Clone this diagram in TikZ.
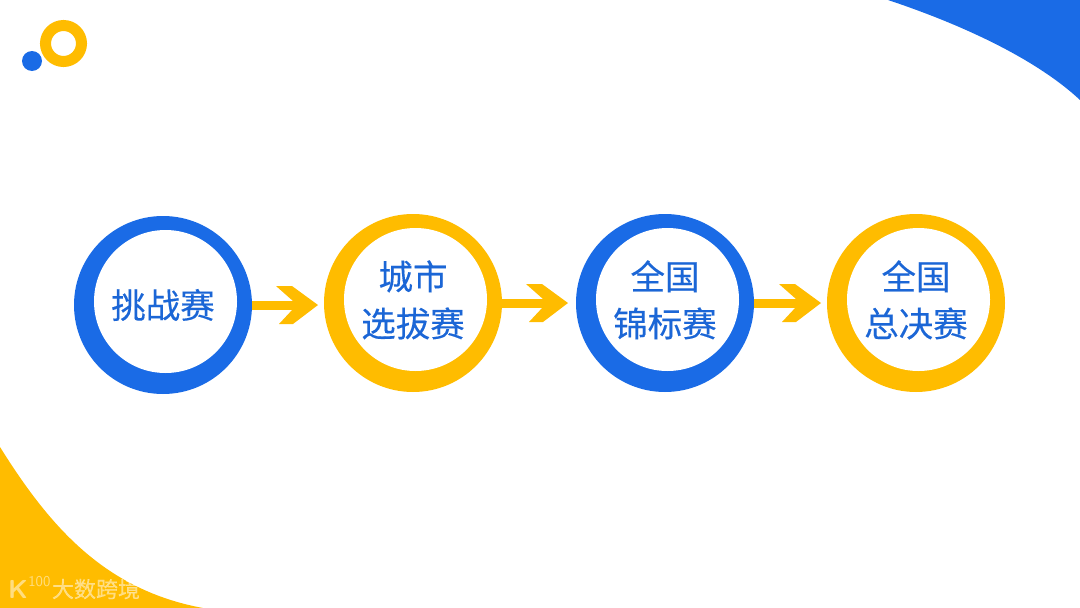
\documentclass[tikz,border=0pt]{standalone}
\usepackage{fontspec}
\newfontfamily\cjk[FakeBold=0.3]{Noto Sans CJK SC}
\usetikzlibrary{positioning}
\definecolor{brandblue}{HTML}{1A6BE6}
\definecolor{brandyellow}{HTML}{FFBC00}
\definecolor{labelblue}{HTML}{1B66D6}

\pgfarrowsdeclare{chevron}{chevron}
{\pgfarrowsleftextend{-17pt}\pgfarrowsrightextend{25pt}}
{
    \pgfpathmoveto{\pgfpoint{-17pt}{19pt}}
    \pgfpathlineto{\pgfpoint{-1pt}{19pt}}
    \pgfpathlineto{\pgfpoint{25pt}{0pt}}
    \pgfpathlineto{\pgfpoint{0pt}{-19pt}}
    \pgfpathlineto{\pgfpoint{-14pt}{-19pt}}
    \pgfpathlineto{\pgfpoint{0pt}{-4pt}}
    \pgfpathlineto{\pgfpoint{0pt}{4pt}}
    \pgfpathclose
    \pgfusepathqfill
}

\begin{document}
\begin{tikzpicture}[
    x=1pt,
    y=-1pt,
    ring/.style={
        circle,
        align=center,
        inner sep=0pt,
        outer sep=0pt,
        minimum size=178pt,
        text=labelblue,
        font=\cjk\fontsize{34.5}{47}\selectfont,
        path picture={
            \fill[white] ([xshift=2.5pt,yshift=3.5pt]path picture bounding box.center) circle (71.5pt);
        }
    },
    bluering/.style={ring, fill=brandblue},
    yellowring/.style={ring, fill=brandyellow},
    twolines/.style={text depth=9pt},
    bigarrow/.style={-chevron, line width=9pt, draw=brandyellow, shorten >=6pt},
    watermark/.style={text=white, opacity=0.5, inner sep=0pt}
]

    \useasboundingbox (0,0) rectangle (1080,608);

    \fill[brandblue] (888,0) .. controls (960,24) and (1035,58) .. (1080,100) -- (1080,0) -- cycle;
    \fill[brandyellow] (0,447) .. controls (50,527) and (105,590) .. (203,608) -- (0,608) -- cycle;

    \node[circle, draw=brandyellow, line width=11pt, minimum size=36pt, inner sep=0pt] (logoring) at (63.5,43.5) {};
    \node[circle, fill=brandblue, minimum size=20pt, inner sep=0pt] (logodot) at (32,61) {};

    \node[bluering] (challenge) at (163,305) {挑战赛};
    \node[yellowring, twolines, right=72pt of challenge, yshift=2pt] (city) {城市\\选拔赛};
    \node[bluering, twolines, right=74pt of city] (national) {全国\\锦标赛};
    \node[yellowring, twolines, right=73pt of national] (finals) {全国\\总决赛};

    \draw[bigarrow] (challenge.east) -- (challenge.east -| city.west);
    \draw[bigarrow, shorten >=8pt] (city.east) -- (national.west);
    \draw[bigarrow] (national.east) -- (finals.west);

    \node[watermark, font=\sffamily\bfseries\fontsize{26}{26}\selectfont] (markk) at (18,589) {K};
    \node[watermark, font=\sffamily\fontsize{15}{15}\selectfont, right=0pt of markk, yshift=7pt] (markhundred) {100};
    \node[watermark, font=\cjk\fontsize{22}{22}\selectfont] (markname) at (96,589) {大数跨境};

\end{tikzpicture}
\end{document}
